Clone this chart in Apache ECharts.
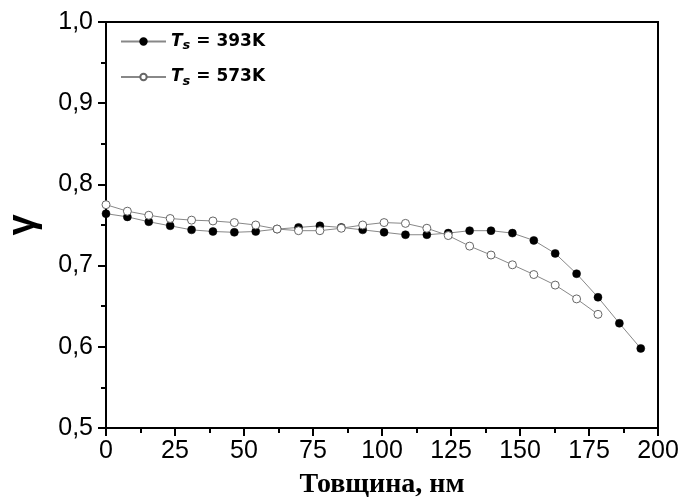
<!DOCTYPE html>
<html>
<head>
<meta charset="utf-8">
<script src="https://cdn.jsdelivr.net/npm/echarts@6/dist/echarts.min.js"></script>
<style>html,body{margin:0;padding:0;background:#fff}#c{width:697px;height:504px}</style>
</head>
<body>
<div id="c"></div>
<script>
const xTicks = [0, 25, 50, 75, 100, 125, 150, 175, 200];
const yTicks = [0.5, 0.6, 0.7, 0.8, 0.9, 1.0];
const xLabel = 'Товщина, нм';
const yLabel = 'γ';
const seriesNames = ['Ts = 393K', 'Ts = 573K'];

const x393 = [0, 7.75, 15.5, 23.25, 31, 38.75, 46.5, 54.25, 62, 69.75, 77.5, 85.25, 93, 100.75, 108.5, 116.25, 124, 131.75, 139.5, 147.25, 155, 162.75, 170.5, 178.25, 186, 193.75];
const y393 = [0.764, 0.760, 0.754, 0.749, 0.744, 0.742, 0.741, 0.742, 0.745, 0.747, 0.749, 0.747, 0.744, 0.741, 0.738, 0.738, 0.740, 0.743, 0.743, 0.740, 0.731, 0.715, 0.690, 0.661, 0.629, 0.598];

const x573 = [0, 7.75, 15.5, 23.25, 31, 38.75, 46.5, 54.25, 62, 69.75, 77.5, 85.25, 93, 100.75, 108.5, 116.25, 124, 131.75, 139.5, 147.25, 155, 162.75, 170.5, 178.25];
const y573 = [0.775, 0.767, 0.762, 0.758, 0.756, 0.755, 0.753, 0.750, 0.745, 0.743, 0.743, 0.746, 0.750, 0.753, 0.752, 0.746, 0.737, 0.724, 0.713, 0.701, 0.689, 0.676, 0.659, 0.640];

const pairs = (xs, ys) => xs.map((x, i) => [x, ys[i]]);

const chart = echarts.init(document.getElementById('c'), null, {renderer: 'canvas'});
const axisFont = {fontFamily: 'Liberation Sans, Arial, sans-serif', fontSize: 25, color: '#000'};
const lf = 'DejaVu Sans, Liberation Sans, Arial';
const rich = {
  t: {fontFamily: lf, fontWeight: 'bold', fontStyle: 'italic', fontSize: 17, lineHeight: 22, color: '#000'},
  s: {fontFamily: lf, fontWeight: 'bold', fontStyle: 'italic', fontSize: 13, lineHeight: 11, verticalAlign: 'bottom', color: '#000'},
  n: {fontFamily: lf, fontWeight: 'bold', fontSize: 17, lineHeight: 22, color: '#000'}
};
chart.setOption({
  animation: false,
  grid: {left: 106, right: 39, top: 22, bottom: 76, containLabel: false, outerBoundsMode: 'none', show: true, borderColor: '#000', borderWidth: 2, backgroundColor: '#fff'},
  legend: {
    orient: 'vertical', left: 120, top: 33, padding: 0, itemWidth: 45, itemHeight: 8, itemGap: 16,
    data: seriesNames,
    formatter: function (name) { const rest = name.replace('Ts', ''); return '{t|T}{s|s}{n|' + rest + '}'; },
    textStyle: {rich: rich}
  },
  xAxis: {
    type: 'value', min: xTicks[0], max: xTicks[xTicks.length - 1], interval: 25,
    name: xLabel, nameLocation: 'middle', nameGap: 43,
    nameTextStyle: {fontFamily: 'Liberation Serif, Times New Roman, serif', fontWeight: 'bold', fontSize: 28, color: '#000'},
    axisLine: {lineStyle: {color: '#000', width: 2}},
    axisTick: {inside: false, length: 8, lineStyle: {color: '#000', width: 2}},
    minorTick: {show: true, splitNumber: 2, length: 5, lineStyle: {color: '#000', width: 2}},
    splitLine: {show: false},
    axisLabel: Object.assign({margin: 11}, axisFont)
  },
  yAxis: {
    type: 'value', min: yTicks[0], max: yTicks[yTicks.length - 1], interval: 0.1,
    name: yLabel, nameLocation: 'middle', nameGap: 63,
    nameTextStyle: {fontFamily: 'Liberation Sans, Arial, sans-serif', fontWeight: 'bold', fontSize: 38, color: '#000'},
    axisLine: {lineStyle: {color: '#000', width: 2}},
    axisTick: {inside: false, length: 8, lineStyle: {color: '#000', width: 2}},
    minorTick: {show: true, splitNumber: 2, length: 5, lineStyle: {color: '#000', width: 2}},
    splitLine: {show: false},
    axisLabel: Object.assign({margin: 13, formatter: v => v.toFixed(1).replace('.', ',')}, axisFont)
  },
  series: [
    {
      name: seriesNames[0], type: 'line', data: pairs(x393, y393), symbol: 'circle', symbolSize: 8,
      lineStyle: {color: '#888', width: 1}, itemStyle: {color: '#000', borderColor: '#000', borderWidth: 0.5},
      emphasis: {disabled: true}, z: 3
    },
    {
      name: seriesNames[1], type: 'line', data: pairs(x573, y573), symbol: 'circle', symbolSize: 8,
      lineStyle: {color: '#888', width: 1}, itemStyle: {color: '#fff', borderColor: '#666', borderWidth: 1},
      emphasis: {disabled: true}, z: 4
    }
  ]
});
</script>
</body>
</html>
